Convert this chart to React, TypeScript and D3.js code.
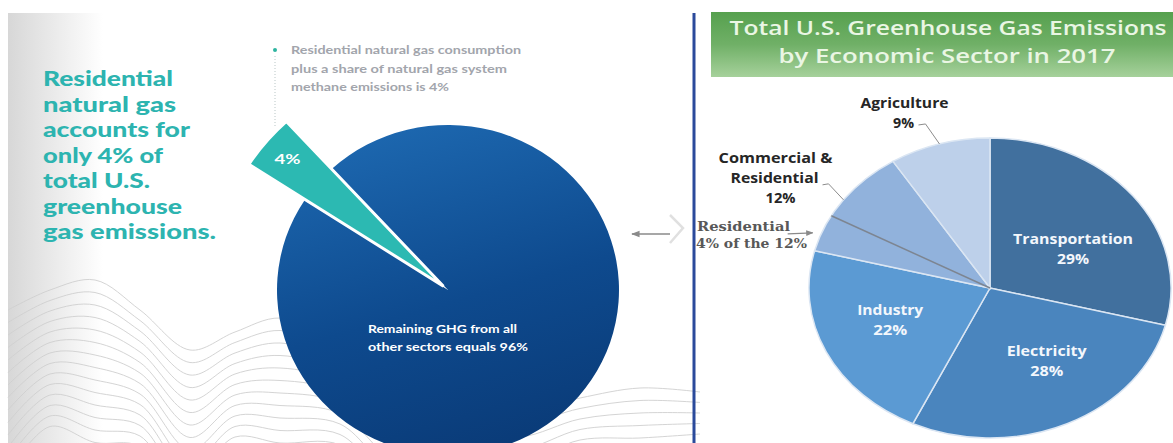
import React from "react";
import * as d3 from "d3";

// ---------------- data ----------------
const leftCategories = ["Residential natural gas", "All other sectors"];
const leftValues = [4, 96];
const leftValueLabels = ["4%", "96%"];

const sectorNames = ["Transportation", "Electricity", "Industry", "Commercial & Residential", "Agriculture"];
const sectorValues = [29, 28, 22, 12, 9];
const sectorColors = ["#41709e", "#4a85be", "#5b9ad3", "#91b2dc", "#bdd0ea"];
const residentialShare = 4; // residential part inside the 12%
const residentialNote = ["Residential", "4% of the 12%"];

const headlineLines = ["Residential", "natural gas", "accounts for", "only 4% of", "total U.S.", "greenhouse", "gas emissions."];
const noteLines = ["Residential natural gas consumption", "plus a share of natural gas system", "methane emissions is 4%"];
const centerLines = ["Remaining GHG from all", "other sectors equals 96%"];
const titleLines = ["Total U.S. Greenhouse Gas Emissions", "by Economic Sector in 2017"];

// ---------------- layout ----------------
const W = 1173;
const H = 443;
const deg = Math.PI / 180;

const headlineWidths = [130, 133, 147, 120, 107, 139, 173];
const noteWidths = [230, 216, 158];
const centerWidths = [149, 160];
const titleWidths = [437, 337];

const L = { cx: 448, cy: 290, r: 171, sy: 0.965, wedgeR: 232, explode: 6, startDeg: 303 };
const R = { cx: 990, cy: 288, r: 150, sx: 1.207 };

const insideNudges: Record<string, [number, number]> = {
  Transportation: [2, 12.6],
  Electricity: [13, -4],
  Industry: [-7, -4],
};
const insideWidths: Record<string, [number, number]> = {
  Transportation: [120, 32],
  Electricity: [80, 33],
  Industry: [66, 34],
};

function T(props: any) {
  const { w, children, ...rest } = props;
  return (
    <text {...rest} textLength={w} lengthAdjust="spacingAndGlyphs">
      {children}
    </text>
  );
}

// decorative wave background (control points of the top contour)
const waveX = [8, 50, 95, 140, 190, 235, 280, 340, 400, 460, 520, 580, 640, 700];
const waveY = [310, 290, 280, 310, 350, 332, 318, 340, 380, 408, 412, 398, 388, 392];

export default function App() {
  // ---- left pie ----
  const pieL = d3
    .pie<number>()
    .sort(null)
    .value((d) => d)
    .startAngle(L.startDeg * deg)
    .endAngle(L.startDeg * deg + 2 * Math.PI);
  const lArcs = pieL(leftValues);
  const arcBody = d3.arc<d3.PieArcDatum<number>>().innerRadius(0).outerRadius(L.r);
  const arcWedge = d3.arc<d3.PieArcDatum<number>>().innerRadius(0).outerRadius(L.wedgeR);
  const wd = lArcs[0];
  const wm = (wd.startAngle + wd.endAngle) / 2;
  const wdx = Math.sin(wm) * L.explode;
  const wdy = -Math.cos(wm) * L.explode;
  const wLabel = [L.cx + Math.sin(wm) * 210, L.cy - Math.cos(wm) * 210 * L.sy];

  // ---- right pie ----
  const pieR = d3.pie<number>().sort(null).value((d) => d);
  const rArcs = pieR(sectorValues);
  const arcR = d3.arc<d3.PieArcDatum<number>>().innerRadius(0).outerRadius(R.r);
  const total = d3.sum(sectorValues);
  const P = (a: number, rr: number): [number, number] => [R.cx + R.sx * rr * Math.sin(a), R.cy - rr * Math.cos(a)];
  const mid = (i: number) => (rArcs[i].startAngle + rArcs[i].endAngle) / 2;

  const resA = rArcs[3].startAngle + (residentialShare / total) * 2 * Math.PI;
  const resMid = (rArcs[3].startAngle + resA) / 2;
  const resEdge = P(resMid, R.r);
  const resLine = [Math.sin(resA) * R.r, -Math.cos(resA) * R.r];

  // agriculture leader
  const agEdge = P(mid(4), R.r);
  const agElbow: [number, number] = [agEdge[0] - 14, agEdge[1] - 20];
  const agEnd: [number, number] = [agElbow[0] - 7, agElbow[1] + 1];
  // commercial leader
  const crEdge = P(mid(3), R.r);
  const crElbow: [number, number] = [crEdge[0] - 15, crEdge[1] - 16];
  const crEnd: [number, number] = [crElbow[0] - 6, crElbow[1] + 1];
  const crName = sectorNames[3].split("& ");

  const line = d3.line<[number, number]>();
  const wave = d3.line<[number, number]>().curve(d3.curveCatmullRom);

  return (
    <svg
      width={W}
      height={H}
      viewBox={`0 0 ${W} ${H}`}
      style={{ position: "absolute", left: 0, top: 0, background: "#fff" }}
    >
      <defs>
        <linearGradient id="band" x1="0" y1="0" x2="1" y2="0">
          <stop offset="0" stopColor="#d7d7d7" />
          <stop offset="1" stopColor="#ffffff" />
        </linearGradient>
        <linearGradient id="gBlue" x1="0.3" y1="0" x2="0.6" y2="1">
          <stop offset="0" stopColor="#1d68b0" />
          <stop offset="0.55" stopColor="#0e4a8e" />
          <stop offset="1" stopColor="#0a3b78" />
        </linearGradient>
        <linearGradient id="gGreen" x1="0" y1="0" x2="0" y2="1">
          <stop offset="0" stopColor="#56a04e" />
          <stop offset="0.5" stopColor="#70b067" />
          <stop offset="1" stopColor="#a6d19b" />
        </linearGradient>
        <marker id="ah" viewBox="0 0 10 10" refX="9" refY="5" markerWidth="6" markerHeight="6" orient="auto">
          <path d="M0,1 L10,5 L0,9 z" fill="#8a8a8a" />
        </marker>
      </defs>

      {/* left background band */}
      <rect x={8} y={13} width={95} height={H - 13} fill="url(#band)" />

      {/* wave lines */}
      <g fill="none" stroke="#cfcfcf" strokeWidth={0.9}>
        {d3.range(14).map((i) => (
          <path
            key={i}
            d={wave(waveX.map((x, k) => [x, waveY[k] + i * 11 + (k % 2 === 0 ? i * 1.5 : -i * 0.5)] as [number, number])) || ""}
          />
        ))}
      </g>

      {/* headline */}
      <g fontFamily="Lato" fontWeight={900} fontSize={20} fill="#2db4b0">
        {headlineLines.map((t, i) => (
          <T key={i} x={43} y={86 + i * 25.5} w={headlineWidths[i]}>
            {t}
          </T>
        ))}
      </g>

      {/* note */}
      <circle cx={275} cy={50} r={2} fill="#2db4a0" />
      <line x1={275} y1={56} x2={275} y2={128} stroke="#b9c6c6" strokeWidth={1} strokeDasharray="1,2" />
      <g fontFamily="Lato" fontWeight={700} fontSize={10.5} fill="#a2a5ac">
        {noteLines.map((t, i) => (
          <T key={i} x={291} y={54 + i * 18.5} w={noteWidths[i]}>
            {t}
          </T>
        ))}
      </g>

      {/* left pie */}
      <g transform={`translate(${L.cx},${L.cy}) scale(1,${L.sy})`}>
        <path d={arcBody(lArcs[1]) || ""} fill="url(#gBlue)" />
        <path
          d={arcWedge(wd) || ""}
          transform={`translate(${wdx},${wdy})`}
          fill="#2cb9b2"
          stroke="#ffffff"
          strokeWidth={3}
          vectorEffect="non-scaling-stroke"
        />
      </g>
      <T x={wLabel[0]} y={wLabel[1] + 4.5} w={26} textAnchor="middle" fontFamily="Lato" fontWeight={700} fontSize={13} fill="#ffffff">
        {leftValueLabels[0]}
      </T>
      <g fontFamily="Lato" fontWeight={700} fontSize={11.5} fill="#ffffff">
        {centerLines.map((t, i) => (
          <T key={i} x={L.cx - 80} y={L.cy + 43 + i * 18} w={centerWidths[i]}>
            {t}
          </T>
        ))}
      </g>

      {/* connector arrow & chevron */}
      <line x1={670} y1={234} x2={632} y2={234} stroke="#8a8a8a" strokeWidth={1.4} markerEnd="url(#ah)" />
      <polyline points="670,215 683,228 670,243" fill="none" stroke="#e0e0e0" strokeWidth={2.5} />

      {/* divider */}
      <rect x={692.5} y={13} width={3} height={H - 13} fill="#2b4a9b" />

      {/* title */}
      <rect x={711} y={12} width={W - 711} height={65} fill="url(#gGreen)" />
      <g fontFamily="Open Sans" fontWeight={600} fontSize={19} fill="#eaf6e4" textAnchor="middle">
        <T x={948} y={35} w={titleWidths[0]}>
          {titleLines[0]}
        </T>
        <T x={947} y={63} w={titleWidths[1]}>
          {titleLines[1]}
        </T>
      </g>

      {/* right pie */}
      <g transform={`translate(${R.cx},${R.cy}) scale(${R.sx},1)`}>
        {rArcs.map((a, i) => (
          <path
            key={i}
            d={arcR(a) || ""}
            fill={sectorColors[i]}
            stroke="#dbe6f3"
            strokeWidth={1.5}
            vectorEffect="non-scaling-stroke"
          />
        ))}
        <line x1={0} y1={0} x2={resLine[0]} y2={resLine[1]} stroke="#7d8591" strokeWidth={1.5} vectorEffect="non-scaling-stroke" />
      </g>

      {/* inside labels */}
      <g fontFamily="Open Sans" fontWeight={700} fontSize={14} fill="#f3f7fc" textAnchor="middle">
        {[0, 1, 2].map((i) => {
          const name = sectorNames[i];
          const c = P(mid(i), 85);
          const n = insideNudges[name];
          const x = c[0] + n[0];
          const y = c[1] + n[1];
          return (
            <g key={i}>
              <T x={x} y={y - 5} w={insideWidths[name][0]}>
                {name}
              </T>
              <T x={x} y={y + 15} w={insideWidths[name][1]}>
                {sectorValues[i] + "%"}
              </T>
            </g>
          );
        })}
      </g>

      {/* outside labels */}
      <g fill="none" stroke="#8c8c8c" strokeWidth={1}>
        <path d={line([agEdge, agElbow, agEnd]) || ""} />
        <path d={line([crEdge, crElbow, crEnd]) || ""} />
      </g>
      <g fontFamily="Open Sans" fontWeight={700} fontSize={14} fill="#262626" textAnchor="middle">
        <T x={agElbow[0] - 21} y={agElbow[1] - 16} w={88}>
          {sectorNames[4]}
        </T>
        <T x={agElbow[0] - 22} y={agElbow[1] + 4} w={21}>
          {sectorValues[4] + "%"}
        </T>
        <T x={crElbow[0] - 53} y={crElbow[1] - 21} w={114}>
          {crName[0] + "&"}
        </T>
        <T x={crElbow[0] - 54} y={crElbow[1] - 1} w={88}>
          {crName[1]}
        </T>
        <T x={crElbow[0] - 48} y={crElbow[1] + 19} w={30}>
          {sectorValues[3] + "%"}
        </T>
      </g>

      {/* residential note */}
      <line
        x1={resEdge[0] - 34}
        y1={resEdge[1] + 1}
        x2={resEdge[0] - 9}
        y2={resEdge[1]}
        stroke="#8a8a8a"
        strokeWidth={1.2}
        markerEnd="url(#ah)"
      />
      <g fontFamily="DejaVu Serif" fontWeight={700} fontSize={13} fill="#585858">
        <T x={697} y={resEdge[1] - 2} w={93}>
          {residentialNote[0]}
        </T>
        <T x={696} y={resEdge[1] + 15} w={111}>
          {residentialNote[1]}
        </T>
      </g>
    </svg>
  );
}
